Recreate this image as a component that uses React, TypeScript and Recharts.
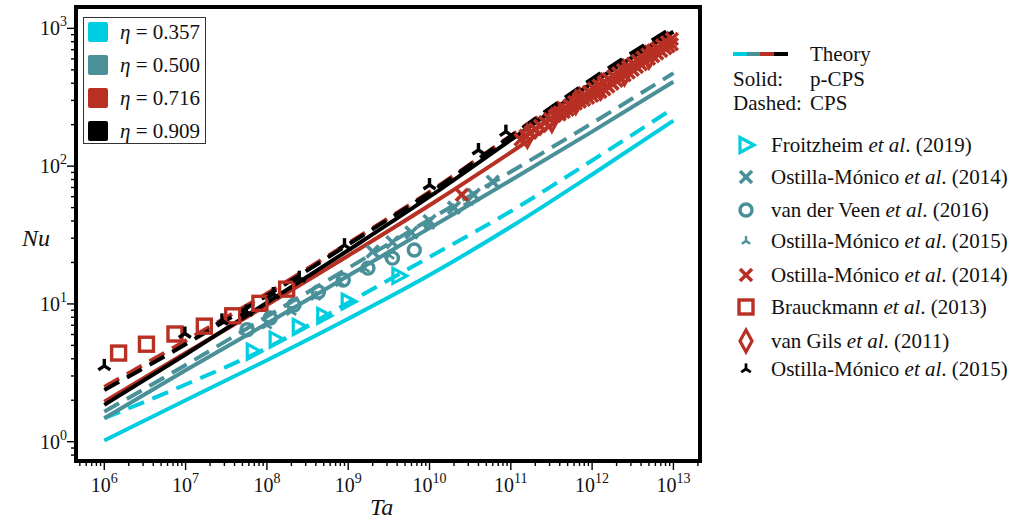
import React from "react";
import { ComposedChart, Line, Scatter, XAxis, YAxis, ReferenceArea } from "recharts";

const CYAN = "#00CEE0";
const TEAL = "#4A9099";
const RED = "#B83024";
const BLACK = "#000000";
const FONT = '"Liberation Serif", "DejaVu Serif", serif';

// theory curves, sampled at each decade of Ta
const taDecades = [1e6, 1e7, 1e8, 1e9, 1e10, 1e11, 1e12, 1e13];
const nuCyanSolid = [1.02, 2.0, 3.9, 7.8, 16.2, 36.3, 87, 214];
const nuCyanDashed = [1.48, 2.6, 4.8, 10.2, 21.9, 47, 110, 263];
const nuTealSolid = [1.48, 3.3, 7.2, 16, 35.5, 79, 178, 410];
const nuTealDashed = [1.65, 3.6, 8.1, 18.2, 41, 91, 205, 473];
const nuRedSolid = [1.95, 4.4, 9.8, 22.4, 52, 126, 316, 780];
const nuRedDashed = [2.5, 5.4, 11.9, 27.6, 65, 166, 420, 977];
const nuBlackSolid = [1.85, 4.3, 10.2, 24.5, 60, 155, 400, 945];
const nuBlackDashed = [2.37, 5.1, 11.5, 27, 64, 165, 430, 1023];

// experiments / simulations: [Ta, Nu]
const froitzheim2019 = [[6.8e7, 4.5], [1.3e8, 5.5], [2.5e8, 6.8], [5e8, 8.2], [1e9, 10.4], [4.2e9, 16]];
const ostilla2014Teal = [[2e9, 24], [3.5e9, 28], [6e9, 33], [1e10, 40], [2e10, 50], [3.5e10, 62], [6e10, 77]];
const vanDerVeen2016 = [[5.7e7, 6.5], [1.1e8, 7.9], [2.15e8, 9.8], [4.3e8, 12.2], [8.7e8, 14.9], [1.75e9, 18.2], [3.5e9, 21.5], [6.5e9, 24.6]];
const ostilla2015Teal = [[1e8, 7.0], [2e8, 8.8], [4e8, 11.3], [8e8, 14.2], [1.6e9, 18], [3.2e9, 22.5], [1e10, 37], [3e10, 55]];
const ostilla2014Red = [
  [2.5e10, 62],
  [1.318e11, 156], [1.514e11, 166], [1.738e11, 175], [1.995e11, 185], [2.291e11, 196], [2.63e11, 208],
  [3.02e11, 220], [3.467e11, 232], [3.981e11, 246], [4.571e11, 261], [5.248e11, 275], [6.026e11, 292],
  [6.918e11, 308], [7.943e11, 327], [9.12e11, 346], [1.047e12, 366], [1.202e12, 385], [1.38e12, 405],
  [1.585e12, 427], [1.82e12, 450], [2.089e12, 473], [2.399e12, 499], [2.754e12, 525], [3.162e12, 553],
  [3.631e12, 582], [4.169e12, 614], [4.786e12, 646], [5.495e12, 681], [6.31e12, 716], [7.244e12, 755],
  [8.318e12, 794], [9.55e12, 837],
  [3.98e11, 237], [4.467e11, 247], [5.01e11, 257], [5.623e11, 271], [6.31e11, 285], [7.079e11, 294],
  [7.94e11, 304], [8.913e11, 314], [1e12, 324], [1.122e12, 335], [1.26e12, 346], [1.413e12, 362],
  [1.58e12, 379], [1.778e12, 397], [2e12, 416], [2.239e12, 436], [2.51e12, 456], [2.818e12, 478],
  [3.16e12, 500], [3.548e12, 524], [3.98e12, 548], [4.467e12, 574], [5.01e12, 601], [5.623e12, 628],
  [6.31e12, 656], [7.079e12, 685], [7.94e12, 716], [8.71e12, 741], [9.55e12, 767],
];
const brauckmann2013 = [[1.5e6, 4.4], [3.3e6, 5.1], [7.4e6, 6.05], [1.7e7, 6.9], [3.8e7, 8.2], [8.2e7, 10.1], [1.75e8, 12.8]];
const vanGils2011 = [[1.6e11, 165], [3.2e11, 215], [6.3e11, 290], [1.26e12, 370], [2.5e12, 470], [5e12, 620]];
const ostilla2015Black = [[1e6, 3.55], [9.8e6, 6.1], [2.8e7, 7.6], [5.6e7, 8.8], [1.2e8, 11.8], [2.5e8, 15.5], [9e8, 26.7], [1e10, 73], [4e10, 131], [8.7e10, 178]];

const etaLabels = ["0.357", "0.500", "0.716", "0.909"];
const etaColors = [CYAN, TEAL, RED, BLACK];
const majorX = [1e6, 1e7, 1e8, 1e9, 1e10, 1e11, 1e12, 1e13];
const majorY = [1, 10, 100, 1000];

const X_MIN = Math.pow(10, 5.652);
const X_MAX = Math.pow(10, 13.327);
const Y_MIN = Math.pow(10, -0.14);
const Y_MAX = Math.pow(10, 3.155);

const withMinors = (majors: number[], lo: number, hi: number) => {
  const out: number[] = [];
  const first = majors[0] / 10;
  [first, ...majors].forEach((d) => {
    for (let m = 1; m <= 9; m++) {
      const v = d * m;
      if (v >= lo && v <= hi) out.push(v);
    }
  });
  return out;
};
const xTicks = withMinors(majorX, X_MIN, X_MAX);
const yTicks = withMinors(majorY, Y_MIN, Y_MAX);

const curve = (nu: number[]) => taDecades.map((ta, i) => ({ ta, nu: nu[i] }));
const pts = (arr: number[][]) => arr.map(([ta, nu]) => ({ ta, nu }));

const isMajor = (v: number) => {
  const lg = Math.log10(v);
  return Math.abs(lg - Math.round(lg)) < 1e-6;
};

const XTick = (props: any) => {
  const { x, y, payload } = props;
  const v = payload.value;
  const major = isMajor(v);
  return (
    <g>
      <line x1={x} x2={x} y1={y} y2={y + (major ? 9 : 5)} stroke="#000" strokeWidth={1.4} />
      {major && (
        <text x={x} y={y + 31} textAnchor="middle" fontSize={20} fontFamily={FONT} fill="#111">
          10<tspan dy={-9} fontSize={14}>{Math.round(Math.log10(v))}</tspan>
        </text>
      )}
    </g>
  );
};

const YTick = (props: any) => {
  const { x, y, payload } = props;
  const v = payload.value;
  const major = isMajor(v);
  return (
    <g>
      <line x1={x} x2={x - (major ? 9 : 5)} y1={y} y2={y} stroke="#000" strokeWidth={1.4} />
      {major && (
        <text x={x - 9} y={y + 7} textAnchor="end" fontSize={20} fontFamily={FONT} fill="#111">
          10<tspan dy={-9} fontSize={14}>{Math.round(Math.log10(v))}</tspan>
        </text>
      )}
    </g>
  );
};

// marker shapes, centred on (cx, cy)
const TriRight = ({ cx, cy, color }: any) => (
  <polygon points={`${cx - 6},${cy - 7.5} ${cx + 8},${cy} ${cx - 6},${cy + 7.5}`} fill="none" stroke={color} strokeWidth={3.2} strokeLinejoin="miter" />
);
const Cross = ({ cx, cy, color }: any) => (
  <g stroke={color} strokeWidth={3.6}>
    <line x1={cx - 6} y1={cy - 6} x2={cx + 6} y2={cy + 6} />
    <line x1={cx - 6} y1={cy + 6} x2={cx + 6} y2={cy - 6} />
  </g>
);
const Ring = ({ cx, cy, color }: any) => <circle cx={cx} cy={cy} r={6} fill="none" stroke={color} strokeWidth={3.4} />;
const Tri = ({ cx, cy, color, s = 1 }: any) => (
  <g stroke={color} strokeWidth={3.4 * s}>
    <line x1={cx} y1={cy} x2={cx} y2={cy - 7 * s} />
    <line x1={cx} y1={cy} x2={cx - 6 * s} y2={cy + 4 * s} />
    <line x1={cx} y1={cy} x2={cx + 6 * s} y2={cy + 4 * s} />
  </g>
);
const Sq = ({ cx, cy, color }: any) => <rect x={cx - 7} y={cy - 7} width={14} height={14} fill="none" stroke={color} strokeWidth={3.4} />;
const Diamond = ({ cx, cy, color }: any) => (
  <polygon points={`${cx},${cy - 11} ${cx + 6},${cy} ${cx},${cy + 11} ${cx - 6},${cy}`} fill="none" stroke={color} strokeWidth={3.2} />
);

const legendEntries = [
  { M: TriRight, color: CYAN, name: "Froitzheim", year: "(2019)" },
  { M: Cross, color: TEAL, name: "Ostilla-Mónico", year: "(2014)" },
  { M: Ring, color: TEAL, name: "van der Veen", year: "(2016)" },
  { M: Tri, color: TEAL, name: "Ostilla-Mónico", year: "(2015)", s: 0.7 },
  { M: Cross, color: RED, name: "Ostilla-Mónico", year: "(2014)" },
  { M: Sq, color: RED, name: "Brauckmann", year: "(2013)" },
  { M: Diamond, color: RED, name: "van Gils", year: "(2011)" },
  { M: Tri, color: BLACK, name: "Ostilla-Mónico", year: "(2015)", s: 0.8 },
];
const legendRowY = [145, 177, 210, 241, 275, 307, 341, 369];

const DASH = "17 9";

export default function App() {
  return (
    <div style={{ position: "absolute", left: 0, top: 0, width: 1021, height: 526, background: "#fff", fontFamily: FONT, color: "#111" }}>
      <ComposedChart width={1021} height={526} margin={{ top: 7, right: 321, bottom: 0, left: 0 }}>
        <XAxis
          dataKey="ta"
          type="number"
          scale="log"
          domain={[X_MIN, X_MAX]}
          allowDataOverflow
          ticks={xTicks}
          interval={0}
          tickSize={0}
          tickMargin={0}
          tickLine={false}
          axisLine={false}
          height={65}
          tick={(p: any) => <XTick {...p} />}
        />
        <YAxis
          dataKey="nu"
          type="number"
          scale="log"
          domain={[Y_MIN, Y_MAX]}
          allowDataOverflow
          ticks={yTicks}
          interval={0}
          tickSize={0}
          tickMargin={0}
          tickLine={false}
          axisLine={false}
          width={76}
          tick={(p: any) => <YTick {...p} />}
        />

        <Scatter data={pts(brauckmann2013)} isAnimationActive={false} shape={(p: any) => <Sq cx={p.cx} cy={p.cy} color={RED} />} />
        <Scatter data={pts(vanDerVeen2016)} isAnimationActive={false} shape={(p: any) => <Ring cx={p.cx} cy={p.cy} color={TEAL} />} />
        <Scatter data={pts(froitzheim2019)} isAnimationActive={false} shape={(p: any) => <TriRight cx={p.cx} cy={p.cy} color={CYAN} />} />

        <Line data={curve(nuCyanSolid)} dataKey="nu" type="monotone" stroke={CYAN} strokeWidth={4} dot={false} isAnimationActive={false} />
        <Line data={curve(nuCyanDashed)} dataKey="nu" type="monotone" stroke={CYAN} strokeWidth={4} strokeDasharray={DASH} dot={false} isAnimationActive={false} />
        <Line data={curve(nuTealSolid)} dataKey="nu" type="monotone" stroke={TEAL} strokeWidth={4} dot={false} isAnimationActive={false} />
        <Line data={curve(nuTealDashed)} dataKey="nu" type="monotone" stroke={TEAL} strokeWidth={4} strokeDasharray={DASH} dot={false} isAnimationActive={false} />

        <Scatter data={pts(ostilla2014Teal)} isAnimationActive={false} shape={(p: any) => <Cross cx={p.cx} cy={p.cy} color={TEAL} />} />
        <Scatter data={pts(ostilla2015Teal)} isAnimationActive={false} shape={(p: any) => <Tri cx={p.cx} cy={p.cy} color={TEAL} s={0.8} />} />

        <Line data={curve(nuRedSolid)} dataKey="nu" type="monotone" stroke={RED} strokeWidth={4} dot={false} isAnimationActive={false} />
        <Scatter data={pts(vanGils2011)} isAnimationActive={false} shape={(p: any) => <Diamond cx={p.cx} cy={p.cy} color={RED} />} />
        <Scatter data={pts(ostilla2014Red)} isAnimationActive={false} shape={(p: any) => <Cross cx={p.cx} cy={p.cy} color={RED} />} />
        <Line data={curve(nuRedDashed)} dataKey="nu" type="monotone" stroke={RED} strokeWidth={4} strokeDasharray={DASH} dot={false} isAnimationActive={false} />
        <Line data={curve(nuBlackSolid)} dataKey="nu" type="monotone" stroke={BLACK} strokeWidth={4} dot={false} isAnimationActive={false} />

        <Scatter data={pts(ostilla2015Black)} isAnimationActive={false} shape={(p: any) => <Tri cx={p.cx} cy={p.cy} color={BLACK} />} />

        <Line data={curve(nuBlackDashed)} dataKey="nu" type="monotone" stroke={BLACK} strokeWidth={4} strokeDasharray={DASH} dot={false} isAnimationActive={false} />

        <ReferenceArea x1={X_MIN} x2={X_MAX} y1={Y_MIN} y2={Y_MAX} fill="none" stroke="#000" strokeWidth={4} ifOverflow="visible" />
      </ComposedChart>

      {/* axis labels */}
      <div style={{ position: "absolute", left: 22, top: 225, fontSize: 24, fontStyle: "italic" }}>Nu</div>
      <div style={{ position: "absolute", left: 370, top: 494, fontSize: 24, fontStyle: "italic" }}>Ta</div>

      {/* eta legend inside the axes */}
      <div style={{ position: "absolute", left: 83, top: 17, width: 121, height: 125, border: "1.5px solid #333", background: "#fff" }}>
        {etaLabels.map((lab, i) => (
          <div key={lab} style={{ position: "absolute", left: 4, top: 3 + i * 33, height: 22, display: "flex", alignItems: "center" }}>
            <div style={{ width: 20, height: 20, borderRadius: 2, background: etaColors[i] }} />
            <div style={{ marginLeft: 12, fontSize: 21, whiteSpace: "nowrap" }}>
              <i>η</i> = {lab}
            </div>
          </div>
        ))}
      </div>

      {/* right legend */}
      <svg width={1021} height={526} style={{ position: "absolute", left: 0, top: 0, pointerEvents: "none" }}>
        <line x1={733} x2={747} y1={54} y2={54} stroke={CYAN} strokeWidth={4} />
        <line x1={747} x2={760} y1={54} y2={54} stroke={TEAL} strokeWidth={4} />
        <line x1={760} x2={774} y1={54} y2={54} stroke={RED} strokeWidth={4} />
        <line x1={774} x2={788} y1={54} y2={54} stroke={BLACK} strokeWidth={4} />
        <g fontFamily={FONT} fontSize={21} fill="#111">
          <text x={810} y={61}>Theory</text>
          <text x={733} y={86}>Solid:</text>
          <text x={810} y={86}>p-CPS</text>
          <text x={733} y={110}>Dashed:</text>
          <text x={810} y={110}>CPS</text>
        </g>
        {legendEntries.map((e, i) => {
          const M = e.M;
          const y = legendRowY[i];
          return (
            <g key={i}>
              <M cx={746} cy={y} color={e.color} s={e.s} />
              <text x={771} y={y + 7} fontFamily={FONT} fontSize={21} fill="#111">
                {e.name} <tspan fontStyle="italic">et al</tspan>. {e.year}
              </text>
            </g>
          );
        })}
      </svg>
    </div>
  );
}
